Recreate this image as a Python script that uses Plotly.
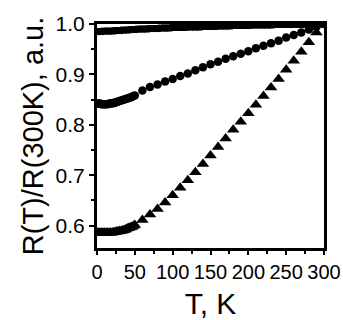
import plotly.graph_objects as go

# Top series (nearly flat), dense squares
T_top = [0, 5, 10, 15, 20, 25, 30, 35, 40, 45, 50, 55, 60, 65, 70, 75, 80, 85, 90, 95,
         100, 105, 110, 115, 120, 125, 130, 135, 140, 145, 150, 155, 160, 165, 170, 175,
         180, 185, 190, 195, 200, 205, 210, 215, 220, 225, 230, 235, 240, 245, 250, 255,
         260, 265, 270, 275, 280, 285, 290, 295, 300]
R_top = [0.985, 0.985, 0.986, 0.986, 0.986, 0.987, 0.987, 0.988, 0.988, 0.989, 0.989, 0.990,
         0.990, 0.990, 0.991, 0.991, 0.991, 0.992, 0.992, 0.992,
         0.993, 0.993, 0.993, 0.993, 0.994, 0.994, 0.994, 0.994, 0.995, 0.995, 0.995, 0.995,
         0.996, 0.996, 0.996, 0.996, 0.997, 0.997, 0.997, 0.997, 0.997, 0.998, 0.998, 0.998,
         0.998, 0.998, 0.998, 0.999, 0.999, 0.999, 0.999, 0.999, 0.999, 0.999, 0.999, 1.000,
         1.000, 1.000, 1.000, 1.000, 1.000]

# Middle series (circles)
T_mid = [0, 2, 4, 6, 8, 10, 12, 14, 16, 18, 20, 22, 24, 26, 28, 30, 32, 34, 36, 38, 40,
         42, 44, 46, 48, 50, 60, 70, 80, 90, 100, 110, 120, 130, 140, 150, 160, 170, 180,
         190, 200, 210, 220, 230, 240, 250, 260, 270, 280, 290, 300]
R_mid = [0.842, 0.842, 0.842, 0.841, 0.841, 0.841, 0.841, 0.841, 0.842, 0.842, 0.843, 0.843,
         0.844, 0.845, 0.846, 0.847, 0.848, 0.849, 0.850, 0.851, 0.852, 0.853, 0.854, 0.855,
         0.857, 0.858, 0.868, 0.875, 0.880, 0.886, 0.891, 0.897, 0.902, 0.908, 0.914, 0.920,
         0.925, 0.931, 0.936, 0.941, 0.946, 0.952, 0.957, 0.962, 0.967, 0.973, 0.978, 0.983,
         0.989, 0.994, 1.000]

# Bottom series (triangles)
T_low = [0, 2, 4, 6, 8, 10, 12, 14, 16, 18, 20, 22, 24, 26, 28, 30, 32, 34, 36, 38, 40,
         42, 44, 46, 48, 50, 60, 70, 80, 90, 100, 110, 120, 130, 140, 150, 160, 170, 180,
         190, 200, 210, 220, 230, 240, 250, 260, 270, 280, 290, 300]
R_low = [0.586, 0.586, 0.586, 0.586, 0.586, 0.586, 0.586, 0.586, 0.586, 0.586, 0.586, 0.587,
         0.587, 0.588, 0.588, 0.589, 0.589, 0.590, 0.591, 0.592, 0.594, 0.595, 0.596, 0.597,
         0.599, 0.601, 0.611, 0.622, 0.633, 0.646, 0.660, 0.675, 0.690, 0.706, 0.722, 0.739,
         0.756, 0.773, 0.790, 0.806, 0.823, 0.840, 0.857, 0.874, 0.891, 0.909, 0.927, 0.945,
         0.964, 0.983, 1.000]

x_ticks = [0, 50, 100, 150, 200, 250, 300]
y_ticks = [0.6, 0.7, 0.8, 0.9, 1.0]
y_tick_labels = ["0.6", "0.7", "0.8", "0.9", "1.0"]

fig = go.Figure()
fig.add_trace(go.Scatter(x=T_top, y=R_top, mode="markers",
                         marker=dict(symbol="square", size=7, color="black"),
                         showlegend=False, cliponaxis=True))
fig.add_trace(go.Scatter(x=T_mid, y=R_mid, mode="markers",
                         marker=dict(symbol="circle", size=8.5, color="black"),
                         showlegend=False, cliponaxis=True))
fig.add_trace(go.Scatter(x=T_low, y=R_low, mode="markers",
                         marker=dict(symbol="triangle-up", size=11, color="black"),
                         showlegend=False, cliponaxis=True))

font_family = "Liberation Sans, Arial, sans-serif"

fig.update_layout(
    width=343, height=320,
    margin=dict(l=97, r=19, t=24, b=72),
    paper_bgcolor="white", plot_bgcolor="white",
    font=dict(family=font_family, color="black"),
    xaxis=dict(
        range=[0, 300], tickvals=x_ticks, ticks="outside", ticklen=4, tickwidth=2,
        tickcolor="black", showline=True, linewidth=3, linecolor="black", mirror=True,
        showgrid=False, zeroline=False,
        tickfont=dict(size=20, family=font_family),
        minor=dict(tickvals=[25, 75, 125, 175, 225, 275], ticks="outside", ticklen=3,
                   tickwidth=2, tickcolor="black"),
        title=dict(text="T, K", font=dict(size=30, family=font_family), standoff=13),
        automargin=False,
    ),
    yaxis=dict(
        range=[0.5555, 1.0], tickvals=y_ticks, ticktext=y_tick_labels, ticks="outside",
        ticklen=5, tickwidth=2, tickcolor="black", showline=True, linewidth=3,
        linecolor="black", mirror=True, showgrid=False, zeroline=False,
        tickfont=dict(size=21, family=font_family),
        minor=dict(tickvals=[0.65, 0.75, 0.85, 0.95], ticks="outside", ticklen=3,
                   tickwidth=2, tickcolor="black"),
        title=dict(text="R(T)/R(300K), a.u.", font=dict(size=29, family=font_family),
                   standoff=4),
        automargin=False,
    ),
)

fig.write_html("out.html", config={"displayModeBar": False},
               post_script="document.body.style.margin='0';document.body.style.padding='0';")
